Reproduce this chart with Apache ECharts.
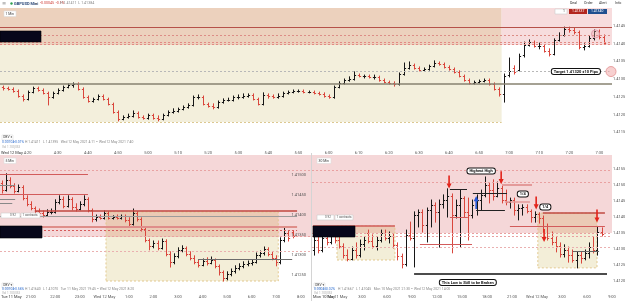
<!DOCTYPE html>
<html>
<head>
<meta charset="utf-8">
<title>GBPUSD 1/5/30 min</title>
<script src="https://cdn.jsdelivr.net/npm/echarts@6.0.0/dist/echarts.min.js"></script>
<style>
  html, body { margin: 0; padding: 0; background: #fff; }
  #chart { width: 625px; height: 301px; }
</style>
</head>
<body>
<div id="chart"></div>
<script>
'use strict';

// prices kept as points (5th decimal) above 1.41000
var BASE = 1.41;

// 1 Min panel, [open, close, low, high]
var topBars = [
  [277,275,269,280],[275,272,269,277],[272,266,263,275],[266,252,249,269],[252,244,238,255],
  [244,263,241,266],[263,275,261,277],[275,269,266,277],[269,261,258,272],[261,249,227,263],
  [249,261,246,263],[261,269,258,272],[269,277,266,280],[277,283,275,286],[283,286,277,289],
  [286,272,269,289],[272,249,246,275],[249,238,235,252],[238,244,235,246],[244,252,241,255],
  [252,244,241,255],[244,230,227,246],[230,207,204,232],[207,187,182,210],[187,193,185,196],
  [193,196,190,201],[196,204,193,210],[204,193,190,207],[193,190,187,196],[190,199,187,201],
  [199,190,187,201],[190,187,182,196],[187,199,185,201],[199,207,196,210],[207,210,204,216],
  [210,216,207,218],[216,221,213,224],[221,227,218,230],[227,249,224,252],[249,249,244,255],
  [249,230,227,252],[230,224,221,232],[224,221,216,230],[221,235,218,238],[235,241,232,244],
  [241,241,238,246],[241,249,238,252],[249,249,244,255],[249,252,246,258],[252,255,249,258],
  [255,244,241,258],[244,230,227,246],[230,255,227,261],[255,252,246,258],[252,249,246,255],
  [249,252,246,258],[252,261,249,263],[261,263,258,266],[263,266,261,269],[266,266,263,269],
  [266,263,261,269],[263,263,261,266],[263,261,258,266],[261,258,255,263],[258,252,249,261],
  [252,249,246,255],[249,277,246,280],[277,289,275,292],[289,297,286,300],[297,300,294,306],
  [300,311,297,320],[311,308,306,314],[308,308,303,311],[308,306,303,311],[306,306,300,311],
  [306,297,294,308],[297,292,289,300],[292,289,286,294],[289,286,280,292],[286,314,283,317],
  [314,331,311,345],[331,339,328,348],[339,331,328,342],[331,325,323,334],[325,328,323,331],
  [328,337,325,339],[337,345,334,351],[345,342,339,348],[342,334,331,345],[334,328,325,337],
  [328,320,317,331],[320,308,306,323],[308,297,294,311],[297,289,286,300],[289,292,286,294],
  [292,294,289,297],[294,297,292,300],[297,286,283,300],[286,272,269,289],[272,258,252,275],
  [258,308,235,314],[311,323,306,359],[331,320,314,337],[325,365,323,370],[368,396,362,404],
  [396,404,393,410],[404,393,390,407],[393,393,385,401],[393,379,376,396],[379,370,365,385],
  [370,410,368,413],[410,424,407,430],[424,441,421,446],[441,438,432,446],[438,432,427,444],
  [432,390,385,435],[390,393,382,399],[393,415,390,421],[415,435,410,438],[435,418,413,438],
  [418,401,399,424]
];

// 5 Min panel
var blBars = [
  [480,463,455,485],[463,488,460,503],[488,473,468,493],[473,460,455,478],[460,470,458,475],
  [470,443,438,473],[443,428,423,448],[428,418,413,433],[418,410,405,420],[410,405,403,415],
  [405,400,395,410],[400,408,398,413],[408,408,403,415],[408,433,405,438],[433,440,428,448],
  [440,423,418,445],[423,440,420,448],[440,420,413,443],[420,415,410,428],[415,428,413,433],
  [428,440,423,448],[440,413,408,443],[413,390,383,415],[390,395,385,400],[395,393,390,400],
  [393,405,390,410],[405,393,390,408],[393,395,390,398],[395,393,390,400],[393,398,390,400],
  [398,388,383,400],[388,378,373,393],[378,405,375,415],[405,390,385,408],[390,365,360,393],
  [365,338,333,368],[338,323,313,340],[323,330,318,335],[330,318,313,335],[318,335,315,340],
  [335,303,298,338],[303,283,270,308],[283,298,278,303],[298,313,293,318],[313,318,308,323],
  [318,303,298,320],[303,293,288,308],[293,283,278,298],[283,275,270,288],[275,285,273,290],
  [285,280,275,293],[280,288,278,295],[288,273,268,290],[273,258,250,275],[258,243,235,260],
  [243,253,238,258],[253,260,248,265],[260,268,255,273],[268,273,263,278],[273,278,268,283],
  [278,280,273,285],[280,283,275,288],[283,300,280,305],[300,305,295,310],[305,315,300,320],
  [315,303,298,318],[303,293,288,308],[293,283,273,298],[283,338,278,343],[338,355,333,368],
  [355,343,335,360],[358,348,343,360]
];

// 30 Min panel
var brBars = [
  [297,328,281,344],[328,297,288,338],[297,334,291,350],[334,322,313,344],[322,341,316,353],
  [341,328,319,350],[328,309,303,344],[309,281,272,316],[281,269,263,297],[269,297,266,306],
  [297,281,272,319],[281,316,275,328],[316,328,297,338],[350,325,319,359],[325,309,303,344],
  [309,328,297,338],[328,350,322,359],[350,334,328,359],[334,341,319,353],[341,313,303,347],
  [313,278,266,319],[278,253,241,284],[253,344,247,359],[344,334,328,384],[334,406,244,416],
  [406,416,369,422],[416,375,353,422],[375,422,322,428],[422,438,369,453],[438,416,384,444],
  [416,441,306,453],[441,453,428,469],[453,466,400,488],[466,406,288,472],[406,438,397,453],
  [438,459,306,484],[459,416,400,463],[416,406,328,459],[406,438,397,453],[438,453,406,469],
  [453,469,422,484],[469,500,463,525],[500,484,444,506],[484,466,453,516],[466,491,463,509],
  [491,453,444,497],[453,447,438,484],[447,453,428,459],[453,422,406,459],[422,428,391,438],
  [428,431,406,438],[431,419,413,438],[419,400,384,422],[400,409,384,416],[409,397,381,413],
  [397,372,353,403],[372,334,328,378],[334,322,313,353],[322,309,291,338],[309,284,275,319],
  [284,297,275,313],[297,281,259,306],[281,266,259,297],[266,281,241,291],[281,272,256,291],
  [272,288,266,297],[288,306,272,319],[306,297,288,338],[297,353,281,369],[353,347,341,366]
];

var topTimeLabels = ['4:20','4:30','4:40','4:50','5:00','5:10','5:20','5:30','5:40','5:50',
  '6:00','6:10','6:20','6:30','6:40','6:50','7:00','7:10','7:20','7:30'];
var blTimeLabels = ['21:00','22:00','23:00','Wed 12 May','1:00','2:00','3:00','4:00','5:00','6:00','7:00','8:00'];
var brTimeLabels = ['Tue 11 May','3:00','6:00','9:00','12:00','15:00','18:00','21:00','Wed 12 May','3:00','6:00','9:00'];

// notes: [text, bar position, price]
var topNotes = [['Target 1.41320 \u00b110 Pips', 114.8, 321]];
var brNotes = [['Highest High', 40.6, 544], ['1/4', 50.6, 472], ['1/4', 56.0, 431],
  ['This Low is Still to be Broken', 37.4, 195]];
// arrows: [bar position, price, direction]
var brArrows = [[32.9, 509, 'down'], [45.4, 523, 'down'], [53.8, 444, 'down'],
  [55.7, 342, 'down'], [68.4, 403, 'down'], [39.4, 445, 'up']];

var UP = '#161616', DOWN = '#d9463c';
var FONT = 'Roboto, "DejaVu Sans", sans-serif';
var ARROW_UP = 'path://M5,0 L10,7 L6.6,7 L6.6,18 L3.4,18 L3.4,7 L0,7 Z';
var ARROW_DOWN = 'path://M5,18 L10,11 L6.6,11 L6.6,0 L3.4,0 L3.4,11 L0,11 Z';

var fmtPrice = function (v) { return (BASE + v / 100000).toFixed(5); };

function ohlcSeries(idx, bars) {
  return {
    type: 'custom', xAxisIndex: idx, yAxisIndex: idx, z: 3, clip: true, silent: true,
    data: bars.map(function (b, i) { return [i + 0.5, b[0], b[1], b[2], b[3]]; }),
    encode: { x: 0, y: [1, 2, 3, 4] },
    renderItem: function (params, api) {
      var x = api.value(0), o = api.value(1), c = api.value(2);
      var lo = api.coord([x, api.value(3)]), hi = api.coord([x, api.value(4)]);
      var po = api.coord([x, o]), pc = api.coord([x, c]);
      var px = Math.round(lo[0]) + 0.5;
      var col = c >= o ? UP : DOWN;
      var oy = Math.round(po[1]) + 0.5, cy = Math.round(pc[1]) + 0.5;
      return { type: 'group', children: [
        { type: 'line', shape: { x1: px, y1: hi[1] - 0.5, x2: px, y2: lo[1] + 0.5 }, style: { stroke: col, lineWidth: 1 } },
        { type: 'line', shape: { x1: px - 1.6, y1: oy, x2: px, y2: oy }, style: { stroke: col, lineWidth: 1 } },
        { type: 'line', shape: { x1: px, y1: cy, x2: px + 1.6, y2: cy }, style: { stroke: col, lineWidth: 1 } }
      ] };
    }
  };
}

function seg(x1, x2, y, color, width, type) {
  return [{ coord: [x1, y], lineStyle: { color: color, width: width || 1, type: type || 'solid' } }, { coord: [x2, y] }];
}
function area(x1, y1, x2, y2, color, border) {
  var st = { color: color, opacity: 1 };
  if (border) { st.borderColor = border; st.borderWidth = 1; st.borderType = [2, 2]; }
  return [{ xAxis: x1, yAxis: y1, itemStyle: st }, { xAxis: x2, yAxis: y2 }];
}
function lastPrice(x1, x2, bars) {
  var v = bars[bars.length - 1][1];
  return [{ coord: [x1, v], lineStyle: { width: 0, opacity: 0 },
    label: { show: true, position: 'end', distance: 1, formatter: fmtPrice(v), color: '#fff',
      backgroundColor: '#1f3d66', fontSize: 4, fontFamily: FONT, padding: [1, 1, 0, 1] } },
    { coord: [x2, v] }];
}
function deco(idx, areas, lines) {
  return {
    type: 'line', xAxisIndex: idx, yAxisIndex: idx, data: [], z: 1, silent: true,
    markArea: { silent: true, data: areas },
    markLine: { silent: true, symbol: ['none', 'none'], label: { show: false }, data: lines }
  };
}
function notes(idx, marks) {
  return { type: 'line', xAxisIndex: idx, yAxisIndex: idx, data: [], z: 6, silent: true,
    markPoint: { silent: true, data: marks } };
}
function noteMark(n) {
  return { coord: [n[1], n[2]], symbol: 'rect', symbolSize: 1, itemStyle: { color: 'rgba(0,0,0,0)' },
    label: { show: true, position: 'inside', formatter: n[0], color: '#111', fontSize: 4, fontWeight: 'bold',
      fontFamily: FONT, backgroundColor: '#fff', borderColor: '#111', borderWidth: 1, borderRadius: 2, padding: [1, 2, 0, 2] } };
}
function arrowMark(a) {
  return { coord: [a[0], a[1]], symbol: a[2] === 'up' ? ARROW_UP : ARROW_DOWN, symbolSize: [5, 13],
    itemStyle: { color: a[2] === 'up' ? '#2456d8' : '#e3241b' }, label: { show: false } };
}
function circleMark(x, y, size, fill, stroke) {
  return { coord: [x, y], symbol: 'circle', symbolSize: size,
    itemStyle: { color: fill, borderColor: stroke, borderWidth: 1 }, label: { show: false } };
}

function timeAxis(idx, max, first, step, labels, margin) {
  return {
    gridIndex: idx, type: 'value', min: 0, max: max, z: 10,
    axisLine: { show: false }, axisTick: { show: false }, splitLine: { show: false },
    axisLabel: {
      customValues: labels.map(function (s, k) { return first + step * k; }),
      fontSize: 4, color: '#555', margin: margin, fontFamily: FONT,
      formatter: function (v) {
        var k = Math.round((v - first) / step);
        return Math.abs(first + step * k - v) < 0.01 && labels[k] != null ? labels[k] : '';
      }
    }
  };
}
function priceAxis(idx, min, max, inside, interval) {
  var ax = {
    gridIndex: idx, type: 'value', position: 'right', min: min, max: max, splitNumber: 8, z: 10,
    axisLine: { show: false }, axisTick: { show: false }, splitLine: { show: false },
    axisLabel: { inside: inside, margin: inside ? 5 : 1, fontSize: 4, color: '#555', fontFamily: FONT,
      showMinLabel: false, showMaxLabel: false, formatter: fmtPrice }
  };
  if (interval) ax.interval = interval;
  return ax;
}

function txt(x, y, s, color, size, weight) {
  return { type: 'text', x: x, y: y, z: 100, silent: true,
    style: { text: s, fill: color, fontSize: size || 4, fontWeight: weight || 'normal', fontFamily: FONT,
      align: 'left', verticalAlign: 'middle' } };
}
function rect(x, y, w, h, fill, stroke) {
  return { type: 'rect', z: 100, silent: true, shape: { x: x, y: y, width: w, height: h },
    style: { fill: fill, stroke: stroke || null, lineWidth: stroke ? 0.6 : 0 } };
}

var ui = [
  // toolbar
  txt(2, 3.5, '\u2261', '#888', 5),
  { type: 'circle', z: 100, shape: { cx: 11.5, cy: 3.5, r: 1.2 }, style: { fill: '#2e9e4f' } },
  txt(14, 3.5, 'GBPUSD Mini', '#2e4b7a', 4, 'bold'),
  txt(35, 3.5, '\u25be', '#777', 4),
  txt(40, 3.5, '-0.00045  -0.1%', '#d0413a', 3.6),
  txt(60, 3.5, 'H 1.41411  L 1.41384', '#888', 3.6),
  txt(570, 3.5, 'Deal', '#333', 3.6), txt(584, 3.5, 'Order', '#333', 3.6),
  txt(599, 3.5, 'Alert', '#333', 3.6), txt(615, 3.5, 'Info', '#333', 3.6),
  // top panel
  rect(4, 11, 12, 5.5, '#fff', '#ddd'), txt(5.5, 13.8, '1 Min', '#333', 3.4),
  rect(555, 9, 12, 5, '#fff', '#ccc'), txt(563, 11.5, '1', '#333', 3.4),
  rect(569, 9, 18, 5, '#b3261e'), txt(572, 11.5, '1.41337', '#fff', 3.4),
  rect(588, 9, 19, 5, '#1f4f8f'), txt(591, 11.5, '1.41340', '#fff', 3.4),
  rect(0, 31, 41, 11, '#07071a', '#000'),
  rect(2, 135, 11, 5, '#fff', '#ddd'), txt(3, 137.5, 'OBV \u00d7', '#444', 3.4),
  txt(2, 142.5, '0.00104', '#2f6fd0', 3.4), txt(14, 142.5, '-0.01%', '#2f6fd0', 3.4),
  txt(25, 142.5, 'H 1.41411   L 1.41395   Wed 12 May 2021 4:11 \u2013 Wed 12 May 2021 7:40', '#888', 3.4),
  txt(2, 147, 'Vol 1.100,053', '#aaa', 3),
  txt(1, 153, 'Wed 12 May', '#333', 4),
  // bottom left panel
  { type: 'line', z: 100, shape: { x1: 311.5, y1: 153, x2: 311.5, y2: 301 }, style: { stroke: '#d4d4d4', lineWidth: 1 } },
  rect(4, 158, 12, 5.5, '#fff', '#ddd'), txt(5.5, 160.8, '5 Min', '#333', 3.4),
  rect(1, 213, 19, 5, '#fff', '#ccc'), txt(10, 215.5, '0.92', '#555', 3),
  rect(21, 213, 19, 5, '#fff', '#ccc'), txt(22.5, 215.5, '1 contracts', '#555', 3),
  rect(0, 226, 42, 12, '#07071a', '#000'),
  rect(2, 283, 11, 5, '#fff', '#ddd'), txt(3, 285.5, 'OBV \u25be', '#444', 3.4),
  txt(2, 289.5, '0.00104', '#2f6fd0', 3.4), txt(14, 289.5, '-0.56%', '#2f6fd0', 3.4),
  txt(25, 289.5, 'H 1.41640   L 1.41070   Tue 11 May 2021 19:45 \u2013 Wed 12 May 2021 8:20', '#888', 3.4),
  txt(2, 293.5, 'Vol 1.100,053', '#aaa', 3),
  txt(1, 297, 'Tue 11 May', '#333', 4),
  // bottom right panel
  rect(317, 158, 14, 5.5, '#fff', '#ddd'), txt(318.5, 160.8, '30 Min', '#333', 3.4),
  rect(317, 215, 17, 5, '#fff', '#ccc'), txt(325, 217.5, '0.92', '#555', 3),
  rect(335, 215, 18, 5, '#fff', '#ccc'), txt(336.5, 217.5, '1 contracts', '#555', 3),
  rect(313, 226, 42, 11, '#07071a', '#000'),
  rect(314, 283, 11, 5, '#fff', '#ddd'), txt(315, 285.5, 'OBV \u25be', '#444', 3.4),
  txt(314, 289.5, '0.00046', '#2f6fd0', 3.4), txt(326, 289.5, '0.02%', '#2f6fd0', 3.4),
  txt(338, 289.5, 'H 1.41667   L 1.41045   Mon 10 May 2021 21:30 \u2013 Wed 12 May 2021 14:00', '#888', 3.4),
  txt(314, 293.5, 'Vol 1.100,053', '#aaa', 3),
  txt(313, 297, 'Mon 10 May', '#333', 4)
];

var topDeco = deco(0, [
  area(0, 396, 100, 500, '#ecd1bd'),
  area(100, 396, 122, 500, '#f7dcdd'),
  area(0, 179, 100, 396, '#f3efdc')
], [
  seg(0, 122, 446, '#b65149', 1),
  seg(0, 122, 424, '#dc8c86', 1, [2, 2]),
  seg(0, 122, 404, '#e28a84', 1, [2, 2]),
  seg(0, 122, 398, '#e28a84', 1, [2, 2]),
  seg(0, 121.5, 321, '#b8b8b8', 1, [2, 2]),
  seg(0, 122, 286, '#878270', 1.5),
  seg(0, 100, 179, '#dcc891', 1, [2, 2]),
  lastPrice(0, 122, topBars)
]);

var blDeco = deco(1, [
  area(0, 345, 76, 550, '#f5d7d8'),
  area(25.9, 345, 68, 407.5, '#ebcab5'),
  area(25.9, 235, 68, 345, '#f3eed8'),
  area(25.9, 235, 68, 407.5, 'rgba(0,0,0,0)', '#e2c98f')
], [
  seg(0, 76, 512, '#e8a3a3', 1, [2, 2]),
  seg(0, 21.5, 503, '#d25b5b', 1),
  seg(0, 21.5, 453, '#d25b5b', 1),
  seg(0, 3.7, 475, '#888', 1),
  seg(0, 3.7, 440, '#888', 1),
  seg(0, 3, 430, '#888', 1),
  seg(8.5, 72.6, 410, '#c0463f', 1.5),
  seg(0, 72.6, 398, '#9b9b9b', 1),
  seg(10.3, 72.6, 370, '#df8e8a', 2),
  seg(0, 72.6, 363, '#d65a5a', 1, [2, 2]),
  seg(0, 76, 348, '#e9a0a0', 1, [2, 2]),
  seg(0, 76, 310, '#eab0b0', 1, [2, 2]),
  seg(48.4, 71.4, 290, '#6c6c6c', 1),
  lastPrice(0, 71.3, blBars)
]);

var brDeco = deco(2, [
  area(0, 350, 72, 593.75, '#f5d7d8'),
  area(6, 350, 19.9, 372, '#ebcab5'),
  area(6, 265.6, 19.9, 350, '#f3eed8'),
  area(6, 265.6, 19.9, 372, 'rgba(0,0,0,0)', '#e2c98f'),
  area(54.2, 350, 68.4, 412, '#ebcab5'),
  area(54.2, 241, 68.4, 350, '#f3eed8'),
  area(54.2, 241, 68.4, 412, 'rgba(0,0,0,0)', '#e2c98f')
], [
  seg(0, 72, 547, '#e9a0a0', 1, [2, 2]),
  seg(0, 72, 509, '#e9a0a0', 1, [2, 2]),
  seg(0, 72, 350, '#e9a0a0', 1, [2, 2]),
  seg(0, 72, 341, '#e9a0a0', 1, [2, 2]),
  seg(0, 72, 306, '#eab0b0', 1, [2, 2]),
  seg(0.2, 19.9, 372, '#d25b5b', 1.5),
  seg(25.9, 38.4, 316, '#d25b5b', 1),
  seg(33.1, 37.4, 400, '#d25b5b', 1),
  seg(33.1, 37.2, 487, '#222', 1),
  seg(38.6, 46.8, 475, '#222', 1),
  seg(39.4, 46.3, 422, '#222', 1),
  seg(45.6, 52.8, 500, '#e39a9a', 2),
  seg(46.3, 52.3, 447, '#e39a9a', 1.5),
  seg(55.4, 70.3, 412, '#bf4a42', 1.5),
  seg(47.5, 70.3, 372, '#d25b5b', 1),
  seg(62.6, 68.9, 294, '#666', 1),
  seg(24.5, 70.8, 222, '#111', 1.5),
  lastPrice(0, 72, brBars)
]);

var topMarks = topNotes.map(noteMark).concat([
  circleMark(121.8, 321, 10, 'rgba(240,170,170,0.55)', '#e8a0a0'),
  circleMark(118.7, 427, 8, 'rgba(240,170,170,0.35)', '#e0a0b0')
]);
var brMarks = brNotes.map(noteMark).concat(brArrows.map(arrowMark));

var chart = echarts.init(document.getElementById('chart'), null, { renderer: 'canvas' });
chart.setOption({
  animation: false,
  backgroundColor: '#fff',
  textStyle: { fontFamily: FONT },
  grid: [
    { left: 0, top: 8, width: 612, height: 142, containLabel: false, outerBoundsMode: 'none' },
    { left: 0, top: 155, width: 311, height: 137, containLabel: false, outerBoundsMode: 'none' },
    { left: 312, top: 155, width: 300, height: 137, containLabel: false, outerBoundsMode: 'none' }
  ],
  xAxis: [
    timeAxis(0, 122, 5.5, 6, topTimeLabels, 1),
    timeAxis(1, 76, 7.5, 6, blTimeLabels, 3),
    timeAxis(2, 72, 6, 6, brTimeLabels, 3)
  ],
  yAxis: [
    priceAxis(0, 100, 500, false, 50),
    priceAxis(1, 207.5, 550, true),
    priceAxis(2, 165.6, 593.75, false)
  ],
  graphic: ui,
  series: [
    topDeco, ohlcSeries(0, topBars), notes(0, topMarks),
    blDeco, ohlcSeries(1, blBars),
    brDeco, ohlcSeries(2, brBars), notes(2, brMarks)
  ]
});
</script>
</body>
</html>
